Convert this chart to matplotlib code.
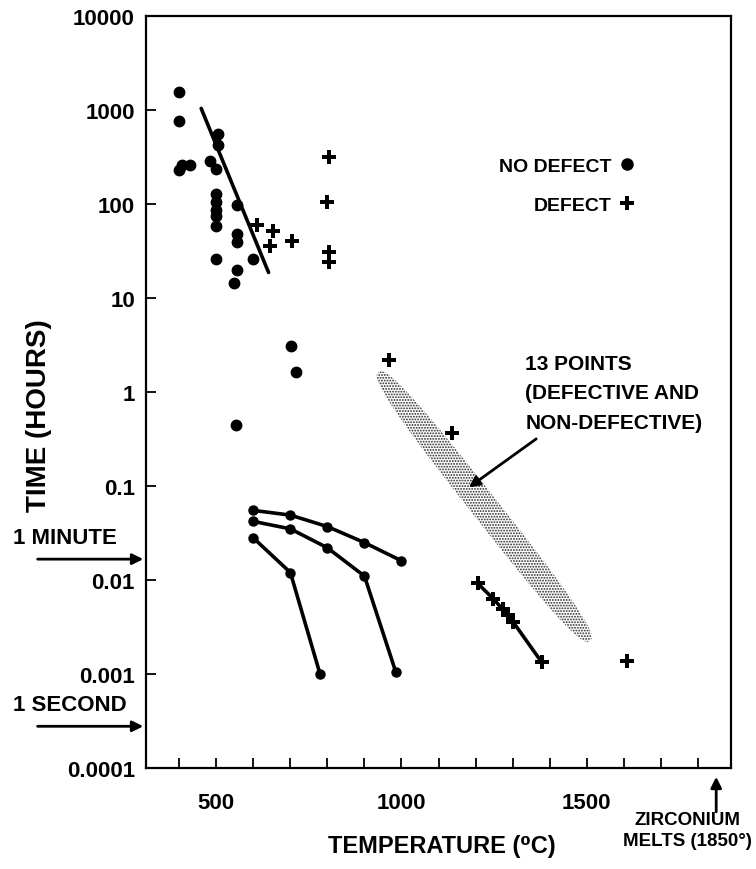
import numpy as np
import matplotlib
matplotlib.use("Agg")
import matplotlib.pyplot as plt
from matplotlib.patches import Polygon

plt.rcParams['font.family'] = ['Liberation Sans', 'DejaVu Sans']
plt.rcParams['font.weight'] = 'bold'
plt.rcParams['axes.labelweight'] = 'bold'
plt.rcParams['hatch.linewidth'] = 0.9

# no defect points (temperature C, time hours)
nodef_temp = [400, 400, 400, 407, 428, 505, 505, 483, 500, 500, 500, 500, 500, 500,
              555, 555, 555, 500, 600, 555, 548, 702, 715, 553]
nodef_time = [1570, 770, 230, 262, 258, 560, 425, 290, 235, 128, 105, 87, 74, 59,
              98, 48, 39, 26, 26, 20, 14.3, 3.1, 1.64, 0.45]

# defect points
def_temp = [609, 654, 704, 645, 803, 798, 803, 803, 967, 1136,
            1206, 1248, 1273, 1289, 1301, 1379, 1608]
def_time = [60, 51, 40, 36, 318, 104, 30.6, 24, 2.2, 0.37,
            0.0092, 0.0063, 0.0049, 0.0042, 0.0036, 0.00133, 0.00138]

# trend line through the low temperature cluster
trend_temp = [459, 641]
trend_time = [1040, 18.7]

# line through the high temperature defects
hi_temp = [1206, 1248, 1273, 1289, 1301, 1379]
hi_time = [0.0092, 0.0063, 0.0049, 0.0042, 0.0036, 0.00133]

# three lower curves
curve_a_temp = [600, 700, 800, 900, 1000]
curve_a_time = [0.055, 0.049, 0.037, 0.025, 0.016]
curve_b_temp = [600, 700, 800, 900, 985]
curve_b_time = [0.042, 0.035, 0.022, 0.011, 0.00104]
curve_c_temp = [600, 700, 780]
curve_c_time = [0.028, 0.012, 0.001]

# shaded band (13 points), ends of its long axis
band_temp = [938, 1509]
band_time = [1.62, 0.00226]
arrow_tip = (1176, 0.093)
arrow_tail = (1370, 0.33)

ONE_MINUTE = 1 / 60
ONE_SECOND = 1 / 3600
ZR_MELT = 1850

yticks = [1e-4, 1e-3, 1e-2, 1e-1, 1, 10, 100, 1000, 10000]
ytick_labels = ['0.0001', '0.001', '0.01', '0.1', '1', '10', '100', '1000', '10000']

fig = plt.figure(figsize=(7.56, 8.70), dpi=100)
ax = fig.add_axes([146 / 756, 1 - 769 / 870, 585 / 756, 752 / 870])
ax.set_yscale('log')
ax.set_xlim(310, 1890)
ax.set_ylim(1e-4, 1e4)

for s in ax.spines.values():
    s.set_linewidth(1.6)

ax.set_yticks(yticks)
ax.set_yticklabels(ytick_labels)
ax.yaxis.set_minor_locator(matplotlib.ticker.NullLocator())
ax.set_xticks([500, 1000, 1500])
ax.set_xticks(range(400, 1900, 100), minor=True)
ax.tick_params(axis='both', which='both', direction='in', length=7, width=1.3,
               labelsize=16, top=False, right=False)
ax.tick_params(axis='x', pad=17)
ax.tick_params(axis='y', pad=8)

# data
ax.plot(trend_temp, trend_time, color='k', lw=2.6, solid_capstyle='round')
ax.plot(hi_temp, hi_time, color='k', lw=2.6)
ax.plot(nodef_temp, nodef_time, 'o', color='k', ms=7.5, ls='none')
ax.plot(def_temp, def_time, 'P', color='k', ms=9.5, mew=0, ls='none')
for tt, tm in [(curve_a_temp, curve_a_time), (curve_b_temp, curve_b_time),
               (curve_c_temp, curve_c_time)]:
    ax.plot(tt, tm, '-o', color='k', lw=2.6, ms=6.5)

# shaded band, built in display space from its two data end points
p0 = ax.transData.transform((band_temp[0], band_time[0]))
p1 = ax.transData.transform((band_temp[1], band_time[1]))
c = (p0 + p1) / 2
v = p1 - p0
half = np.hypot(*v) / 2
u = v / np.hypot(*v)
n = np.array([-u[1], u[0]])
th = np.linspace(0, 2 * np.pi, 240)
ex = 2 / 2.8
cs = np.sign(np.cos(th)) * np.abs(np.cos(th)) ** ex
sn = np.sign(np.sin(th)) * np.abs(np.sin(th)) ** ex
pts = c + half * cs[:, None] * u + 13.5 * sn[:, None] * n
band = Polygon(ax.transData.inverted().transform(pts), closed=True,
               facecolor='none', edgecolor='0.15', lw=0, hatch='......')
ax.add_patch(band)

ax.annotate('', xy=arrow_tip, xytext=arrow_tail,
            arrowprops=dict(arrowstyle='-|>', color='k', lw=2, mutation_scale=16))
ax.text(1334, 2.55, '13 POINTS\n(DEFECTIVE AND\nNON-DEFECTIVE)', fontsize=15,
        va='top', ha='left', linespacing=1.7)

# legend
h1, = ax.plot([], [], 'o', color='k', ms=8)
h2, = ax.plot([], [], 'P', color='k', ms=10, mew=0)
ax.legend([h1, h2], ['NO DEFECT', 'DEFECT'], markerfirst=False, frameon=False,
          loc='upper right', bbox_to_anchor=(0.836, 0.812),
          prop={'size': 14, 'weight': 'bold'},
          handlelength=0.8, handletextpad=0.4, labelspacing=1.1,
          borderaxespad=0, borderpad=0)

# minute / second markers
for val, lab in [(ONE_MINUTE, '1 MINUTE'), (ONE_SECOND, '1 SECOND')]:
    ax.annotate('', xy=(0, val), xycoords=('axes fraction', 'data'),
                xytext=(-0.19, val), textcoords=('axes fraction', 'data'),
                arrowprops=dict(arrowstyle='-|>', color='k', lw=2, mutation_scale=16),
                annotation_clip=False)
    ax.annotate(lab, xy=(-0.228, val), xycoords=('axes fraction', 'data'),
                xytext=(0, 8), textcoords='offset points', fontsize=16,
                ha='left', va='bottom', annotation_clip=False)

# zirconium melts
ax.annotate('', xy=(ZR_MELT, -0.008), xycoords=('data', 'axes fraction'),
            xytext=(ZR_MELT, -0.062), textcoords=('data', 'axes fraction'),
            arrowprops=dict(arrowstyle='-|>', color='k', lw=2, mutation_scale=16),
            annotation_clip=False)
fig.text(0.995, 1 - 812 / 870, 'ZIRCONIUM\nMELTS (1850\u00b0)', fontsize=13.5,
         ha='right', va='top', multialignment='center', linespacing=1.3)

ax.set_xlabel('TEMPERATURE (\u2070C)', fontsize=17)
ax.xaxis.set_label_coords(0.506, -0.088)
ax.set_ylabel('TIME (HOURS)', fontsize=20)
ax.yaxis.set_label_coords(-0.16, 0.47)

fig.savefig('out.png', dpi=100)
